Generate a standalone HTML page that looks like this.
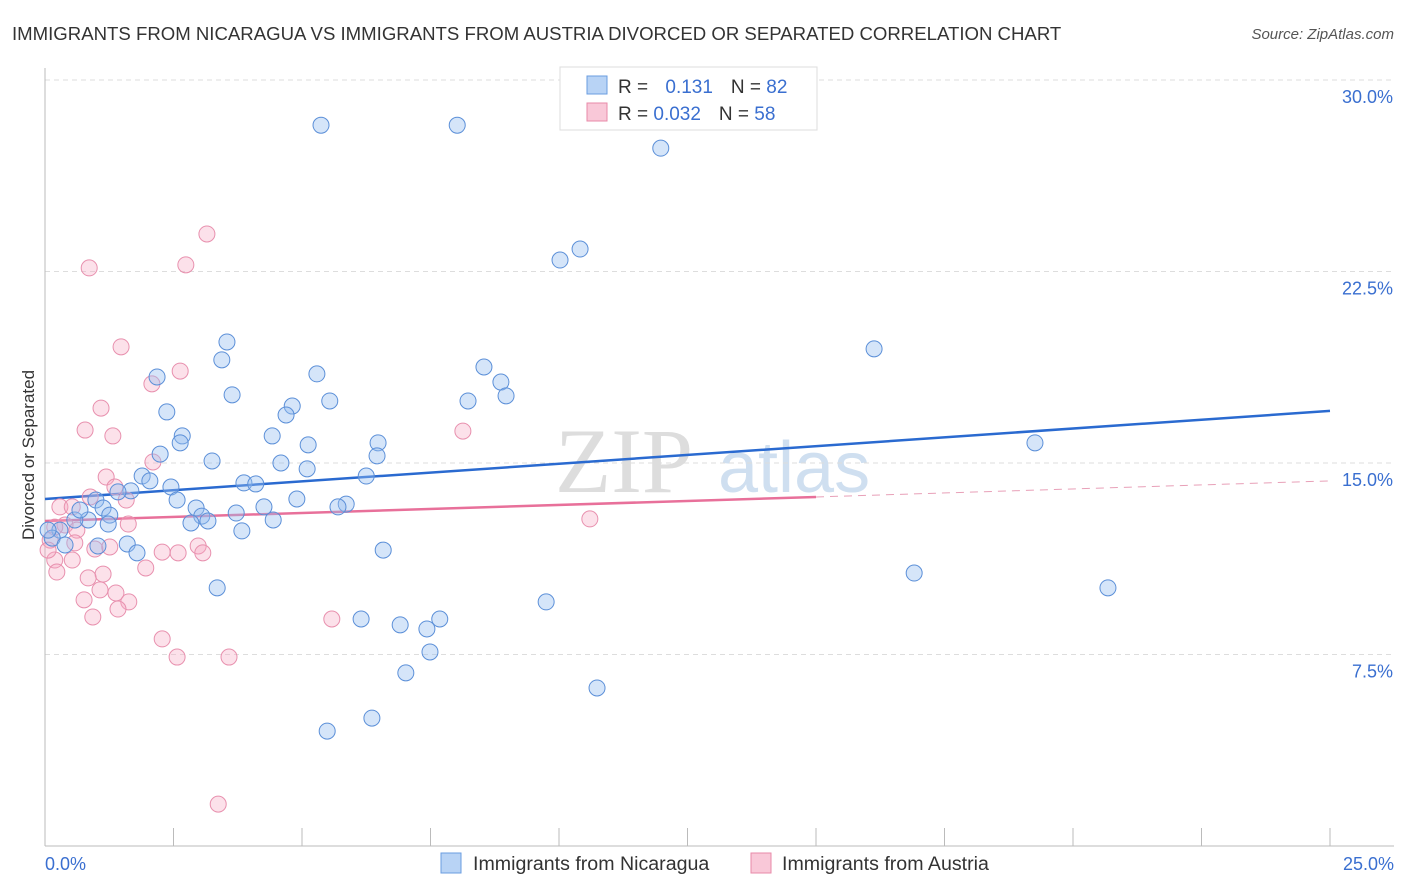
<!DOCTYPE html>
<html><head><meta charset="utf-8">
<style>
body{margin:0;background:#fff;font-family:"Liberation Sans",sans-serif;}
#wrap{position:relative;width:1406px;height:892px;overflow:hidden;}
</style></head>
<body>
<div id="wrap">
<svg id="svg" width="1406" height="892" xmlns="http://www.w3.org/2000/svg">
<text x="12" y="40" font-size="18.6" fill="#333">IMMIGRANTS FROM NICARAGUA VS IMMIGRANTS FROM AUSTRIA DIVORCED OR SEPARATED CORRELATION CHART</text>
<text x="1394" y="39" font-size="15" fill="#555" font-style="italic" text-anchor="end">Source: ZipAtlas.com</text>
<text transform="translate(34,455) rotate(-90)" font-size="17" fill="#333" text-anchor="middle">Divorced or Separated</text>
<g><text x="555" y="492" font-size="92" fill="#ddd" font-family="Liberation Serif">ZIP</text><text x="718" y="492" font-size="72" fill="#cfdff0">atlas</text></g>
<g id="grid"></g><g id="axes"></g><g id="trends"></g><g id="pts"></g>
<g>
<rect x="560" y="67" width="257" height="63" fill="#fff" stroke="#ddd"/>
<rect x="587" y="76" width="20" height="18" fill="#b8d3f5" stroke="#6a9de0"/>
<rect x="587" y="103" width="20" height="18" fill="#f9c8d8" stroke="#e88aa8"/>
<text x="618" y="93" font-size="19" fill="#333">R = <tspan fill="#3a6fd0" dx="12">0.131</tspan><tspan dx="18">N = </tspan><tspan fill="#3a6fd0">82</tspan></text>
<text x="618" y="120" font-size="19" fill="#333">R = <tspan fill="#3a6fd0">0.032</tspan><tspan dx="18">N = </tspan><tspan fill="#3a6fd0">58</tspan></text>
</g>
<g>
<rect x="441" y="853" width="20" height="20" fill="#b8d3f5" stroke="#6a9de0"/>
<text x="473" y="870" font-size="19.6" fill="#333">Immigrants from Nicaragua</text>
<rect x="751" y="853" width="20" height="20" fill="#f9c8d8" stroke="#e88aa8"/>
<text x="782" y="870" font-size="19.6" fill="#333">Immigrants from Austria</text>
</g>
</svg>
</div>
<script>
const yTicks=[7.5,15,22.5,30];
const yTickLabels=["7.5%","15.0%","22.5%","30.0%"];
const xTickLabels=["0.0%","25.0%"];
const nicX=[5.37,8.02,11.98,10.02,10.41,16.13,19.26,16.91,20.68,10.74,9.75,3.54,3.44,2.18,3.64,2.37,5.29,5.54,4.81,4.69,4.42,2.67,2.63,2.24,3.25,5.12,4.59,5.10,6.48,6.46,6.25,8.54,8.87,8.97,8.23,1.89,2.04,2.45,3.87,4.1,1.67,2.57,4.9,5.86,5.7,2.94,4.26,3.72,3.05,3.17,2.84,4.44,3.83,1.42,0.99,1.13,1.26,0.84,0.58,1.23,0.29,0.14,0.39,1.03,1.6,1.79,6.58,3.35,6.15,6.91,7.43,7.68,7.49,7.02,6.36,5.49,0.06,0.68];
const nicY=[28.23,28.23,27.33,22.95,23.38,19.47,15.79,10.69,10.11,6.19,9.56,19.74,19.04,18.37,17.67,17.0,18.49,17.43,17.23,16.88,16.06,16.06,15.79,15.35,15.08,15.71,15.0,14.77,15.79,15.28,14.49,18.76,18.17,17.63,17.43,14.49,14.3,14.06,14.22,14.18,13.91,13.55,13.59,13.39,13.28,13.24,13.28,13.04,12.92,12.73,12.65,12.77,12.34,13.87,13.55,13.24,12.96,12.77,12.77,12.61,12.37,12.06,11.79,11.75,11.83,11.48,11.59,10.11,8.89,8.66,8.5,8.89,7.6,6.78,5.01,4.5,12.37,13.16];
const ausX=[3.15,0.86,2.74,1.48,2.63,2.08,1.09,0.78,1.32,8.13,2.1,1.19,1.36,0.88,1.58,0.29,0.53,1.62,0.39,0.62,0.19,10.6,0.1,0.58,0.97,1.26,2.28,2.59,2.98,3.07,0.19,0.53,0.23,1.96,1.13,0.84,1.07,1.38,0.76,1.63,1.42,0.93,5.58,2.28,2.57,3.58,3.37,0.06];
const ausY=[23.97,22.64,22.76,19.55,18.6,18.1,17.15,16.29,16.06,16.25,15.04,14.45,14.06,13.67,13.55,13.28,13.28,12.61,12.57,12.37,12.49,12.81,11.98,11.87,11.63,11.71,11.51,11.48,11.75,11.48,11.2,11.2,10.73,10.89,10.65,10.5,10.03,9.91,9.64,9.56,9.28,8.97,8.89,8.11,7.4,7.4,1.64,11.59];
const nicTrend=[13.59,17.04];
const ausTrend=[12.73,13.67,14.3];
const NS="http://www.w3.org/2000/svg";
const X=v=>45+v/25*1285, Y=v=>846-v/30*766;
function mk(tag,attrs,parent){const e=document.createElementNS(NS,tag);for(const k in attrs)e.setAttribute(k,attrs[k]);document.getElementById(parent).appendChild(e);return e;}
yTicks.forEach((t,i)=>{
 const l=mk('line',{x1:45,x2:1394,y1:Y(t),y2:Y(t),stroke:'#ddd','stroke-dasharray':'5,4'},'grid');
 
 
 const tx=mk('text',{x:1393,y:Y(t)+23,'font-size':18,fill:'#3a6fd0','text-anchor':'end'},'axes');
 tx.textContent=yTickLabels[i];
 
 
});
const ax=mk('line',{x1:45,x2:45,y1:68,y2:846,stroke:'#bbb'},'axes');


const bx=mk('line',{x1:45,x2:1394,y1:846,y2:846,stroke:'#bbb'},'axes');


for(let i=0;i<=10;i++){
 const t=mk('line',{x1:X(i*2.5),x2:X(i*2.5),y1:828,y2:846,stroke:'#bbb'},'axes');
 
 
}
[[0,'start',45],[25,'end',1394]].forEach((d,i)=>{
 const tx=mk('text',{x:d[2],y:870,'font-size':18,fill:'#3a6fd0','text-anchor':d[1]},'axes');
 tx.textContent=xTickLabels[i];
 
 
});
let l1=mk('line',{x1:X(0),y1:Y(nicTrend[0]),x2:X(25),y2:Y(nicTrend[1]),stroke:'#2a6ad0','stroke-width':2.5},'trends');


let l2=mk('line',{x1:X(0),y1:Y(ausTrend[0]),x2:X(15),y2:Y(ausTrend[1]),stroke:'#e8709a','stroke-width':2.5},'trends');


let l3=mk('line',{x1:X(15),y1:Y(ausTrend[1]),x2:X(25),y2:Y(ausTrend[2]),stroke:'#e8a0b8','stroke-width':1,'stroke-dasharray':'8,6'},'trends');


ausX.forEach((v,i)=>{
 const c=mk('circle',{cx:X(v),cy:Y(ausY[i]),r:8,fill:'rgba(245,170,195,0.35)',stroke:'#e890ae','stroke-width':1},'pts');
 
 
});
nicX.forEach((v,i)=>{
 const c=mk('circle',{cx:X(v),cy:Y(nicY[i]),r:8,fill:'rgba(150,190,240,0.4)',stroke:'#5b8fd8','stroke-width':1},'pts');
 
 
});
</script>
</body></html>
